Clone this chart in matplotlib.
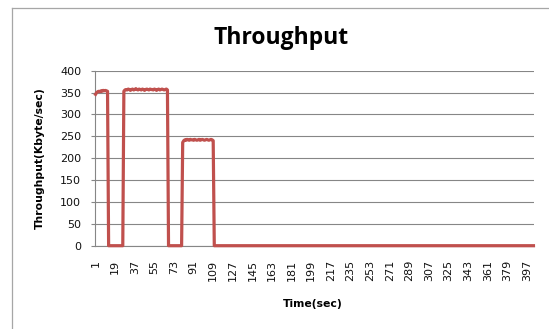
import matplotlib
matplotlib.use("Agg")
import matplotlib.pyplot as plt
from matplotlib.lines import Line2D
import numpy as np

# ---- data (Throughput in Kbyte/sec per 1-sec sample) ----
burst1 = [346, 350, 352, 353, 352, 354, 353, 355, 354, 355, 354, 353]
gap1 = [0, 0, 0, 0, 0, 0, 0, 0, 0, 0, 0, 0, 0, 0]
burst2 = [353, 356, 357, 356, 358, 357, 355, 357, 358, 356,
          357, 359, 357, 356, 358, 357, 356, 358, 357, 355,
          357, 358, 357, 356, 358, 357, 357, 356, 358, 357,
          355, 357, 358, 356, 357, 358, 357, 356, 357, 358,
          356]
gap2 = [0, 0, 0, 0, 0, 0, 0, 0, 0, 0, 0, 0, 0]
burst3 = [236, 240, 242, 241, 243, 242, 241, 243, 242, 242,
          241, 243, 242, 241, 242, 243, 241, 242, 243, 242,
          241, 242, 243, 242, 241, 242, 243, 242, 240]
idle = [0, 0, 0, 0, 0, 0, 0, 0, 0, 0, 0, 0, 0, 0, 0, 0, 0, 0, 0, 0, 0,
        0, 0, 0, 0, 0, 0, 0, 0, 0, 0, 0, 0, 0, 0, 0, 0, 0, 0, 0, 0, 0,
        0, 0, 0, 0, 0, 0, 0, 0, 0, 0, 0, 0, 0, 0, 0, 0, 0, 0, 0, 0, 0,
        0, 0, 0, 0, 0, 0, 0, 0, 0, 0, 0, 0, 0, 0, 0, 0, 0, 0, 0, 0, 0,
        0, 0, 0, 0, 0, 0, 0, 0, 0, 0, 0, 0, 0, 0, 0, 0, 0, 0, 0, 0, 0,
        0, 0, 0, 0, 0, 0, 0, 0, 0, 0, 0, 0, 0, 0, 0, 0, 0, 0, 0, 0, 0,
        0, 0, 0, 0, 0, 0, 0, 0, 0, 0, 0, 0, 0, 0, 0, 0, 0, 0, 0, 0, 0,
        0, 0, 0, 0, 0, 0, 0, 0, 0, 0, 0, 0, 0, 0, 0, 0, 0, 0, 0, 0, 0,
        0, 0, 0, 0, 0, 0, 0, 0, 0, 0, 0, 0, 0, 0, 0, 0, 0, 0, 0, 0, 0,
        0, 0, 0, 0, 0, 0, 0, 0, 0, 0, 0, 0, 0, 0, 0, 0, 0, 0, 0, 0, 0,
        0, 0, 0, 0, 0, 0, 0, 0, 0, 0, 0, 0, 0, 0, 0, 0, 0, 0, 0, 0, 0,
        0, 0, 0, 0, 0, 0, 0, 0, 0, 0, 0, 0, 0, 0, 0, 0, 0, 0, 0, 0, 0,
        0, 0, 0, 0, 0, 0, 0, 0, 0, 0, 0, 0, 0, 0, 0, 0, 0, 0, 0, 0, 0,
        0, 0, 0, 0, 0, 0, 0, 0, 0, 0, 0, 0, 0, 0, 0, 0, 0, 0, 0, 0, 0]

throughput = burst1 + gap1 + burst2 + gap2 + burst3 + idle
time_sec = np.arange(1, len(throughput) + 1)

x_tick_values = [1, 19, 37, 55, 73, 91, 109, 127, 145, 163, 181, 199, 217,
                 235, 253, 271, 289, 307, 325, 343, 361, 379, 397]
y_tick_values = [0, 50, 100, 150, 200, 250, 300, 350, 400]

title_text = "Throughput"
x_label = "Time(sec)"
y_label = "Throughput(Kbyte/sec)"

# ---- figure ----
W, H = 549, 329
fig = plt.figure(figsize=(W / 100, H / 100), dpi=100)
fig.patch.set_facecolor("white")

L, R, T, B = 95, 534, 70.7, 245.7
ax = fig.add_axes([L / W, 1 - B / H, (R - L) / W, (B - T) / H])

grid_col = "#868686"
ax.plot(time_sec, throughput, color="#C0504D", lw=2.3, solid_joinstyle="round",
        zorder=3, clip_on=False)

ax.set_xlim(0.5, len(throughput) + 0.5)
ax.set_ylim(0, 400)
ax.set_yticks(y_tick_values)
ax.set_xticks(x_tick_values)
ax.set_xticklabels([str(v) for v in x_tick_values], rotation=90)
ax.yaxis.grid(True, color=grid_col, lw=0.8)
ax.set_axisbelow(True)

for s in ["top", "right"]:
    ax.spines[s].set_visible(False)
for s in ["left", "bottom"]:
    ax.spines[s].set_color(grid_col)
    ax.spines[s].set_linewidth(0.8)

ax.tick_params(axis="y", length=3, width=0.8, color=grid_col, pad=7,
               labelsize=8, labelcolor="#111111")
ax.tick_params(axis="x", length=0, pad=10, labelsize=8, labelcolor="#111111")
for lab in ax.get_xticklabels() + ax.get_yticklabels():
    lab.set_family("DejaVu Sans")

ax.set_xlabel(x_label, fontsize=7.8, fontweight="bold", family="DejaVu Sans")
ax.xaxis.set_label_coords(0.497, (B - 304) / (B - T))
ax.xaxis.label.set_va("center")
ax.set_ylabel(y_label, fontsize=7.8, fontweight="bold", family="DejaVu Sans")
ax.yaxis.set_label_coords((40 - L) / (R - L), 0.5)
ax.yaxis.label.set_va("center")

fig.text(281 / W, 1 - 44.3 / H, title_text, ha="center", va="baseline",
         fontsize=16.5, fontweight="bold", family="Open Sans", color="black")

# chart-area border (cropped at right/bottom in the reference)
bx, by = 11.5 / W, 1 - 7.5 / H
fig.add_artist(Line2D([bx, bx], [0, by], transform=fig.transFigure,
                      color="#A6A6A6", lw=0.9))
fig.add_artist(Line2D([bx, 1], [by, by], transform=fig.transFigure,
                      color="#A6A6A6", lw=0.9))

fig.savefig("out.png", dpi=100, facecolor="white")
